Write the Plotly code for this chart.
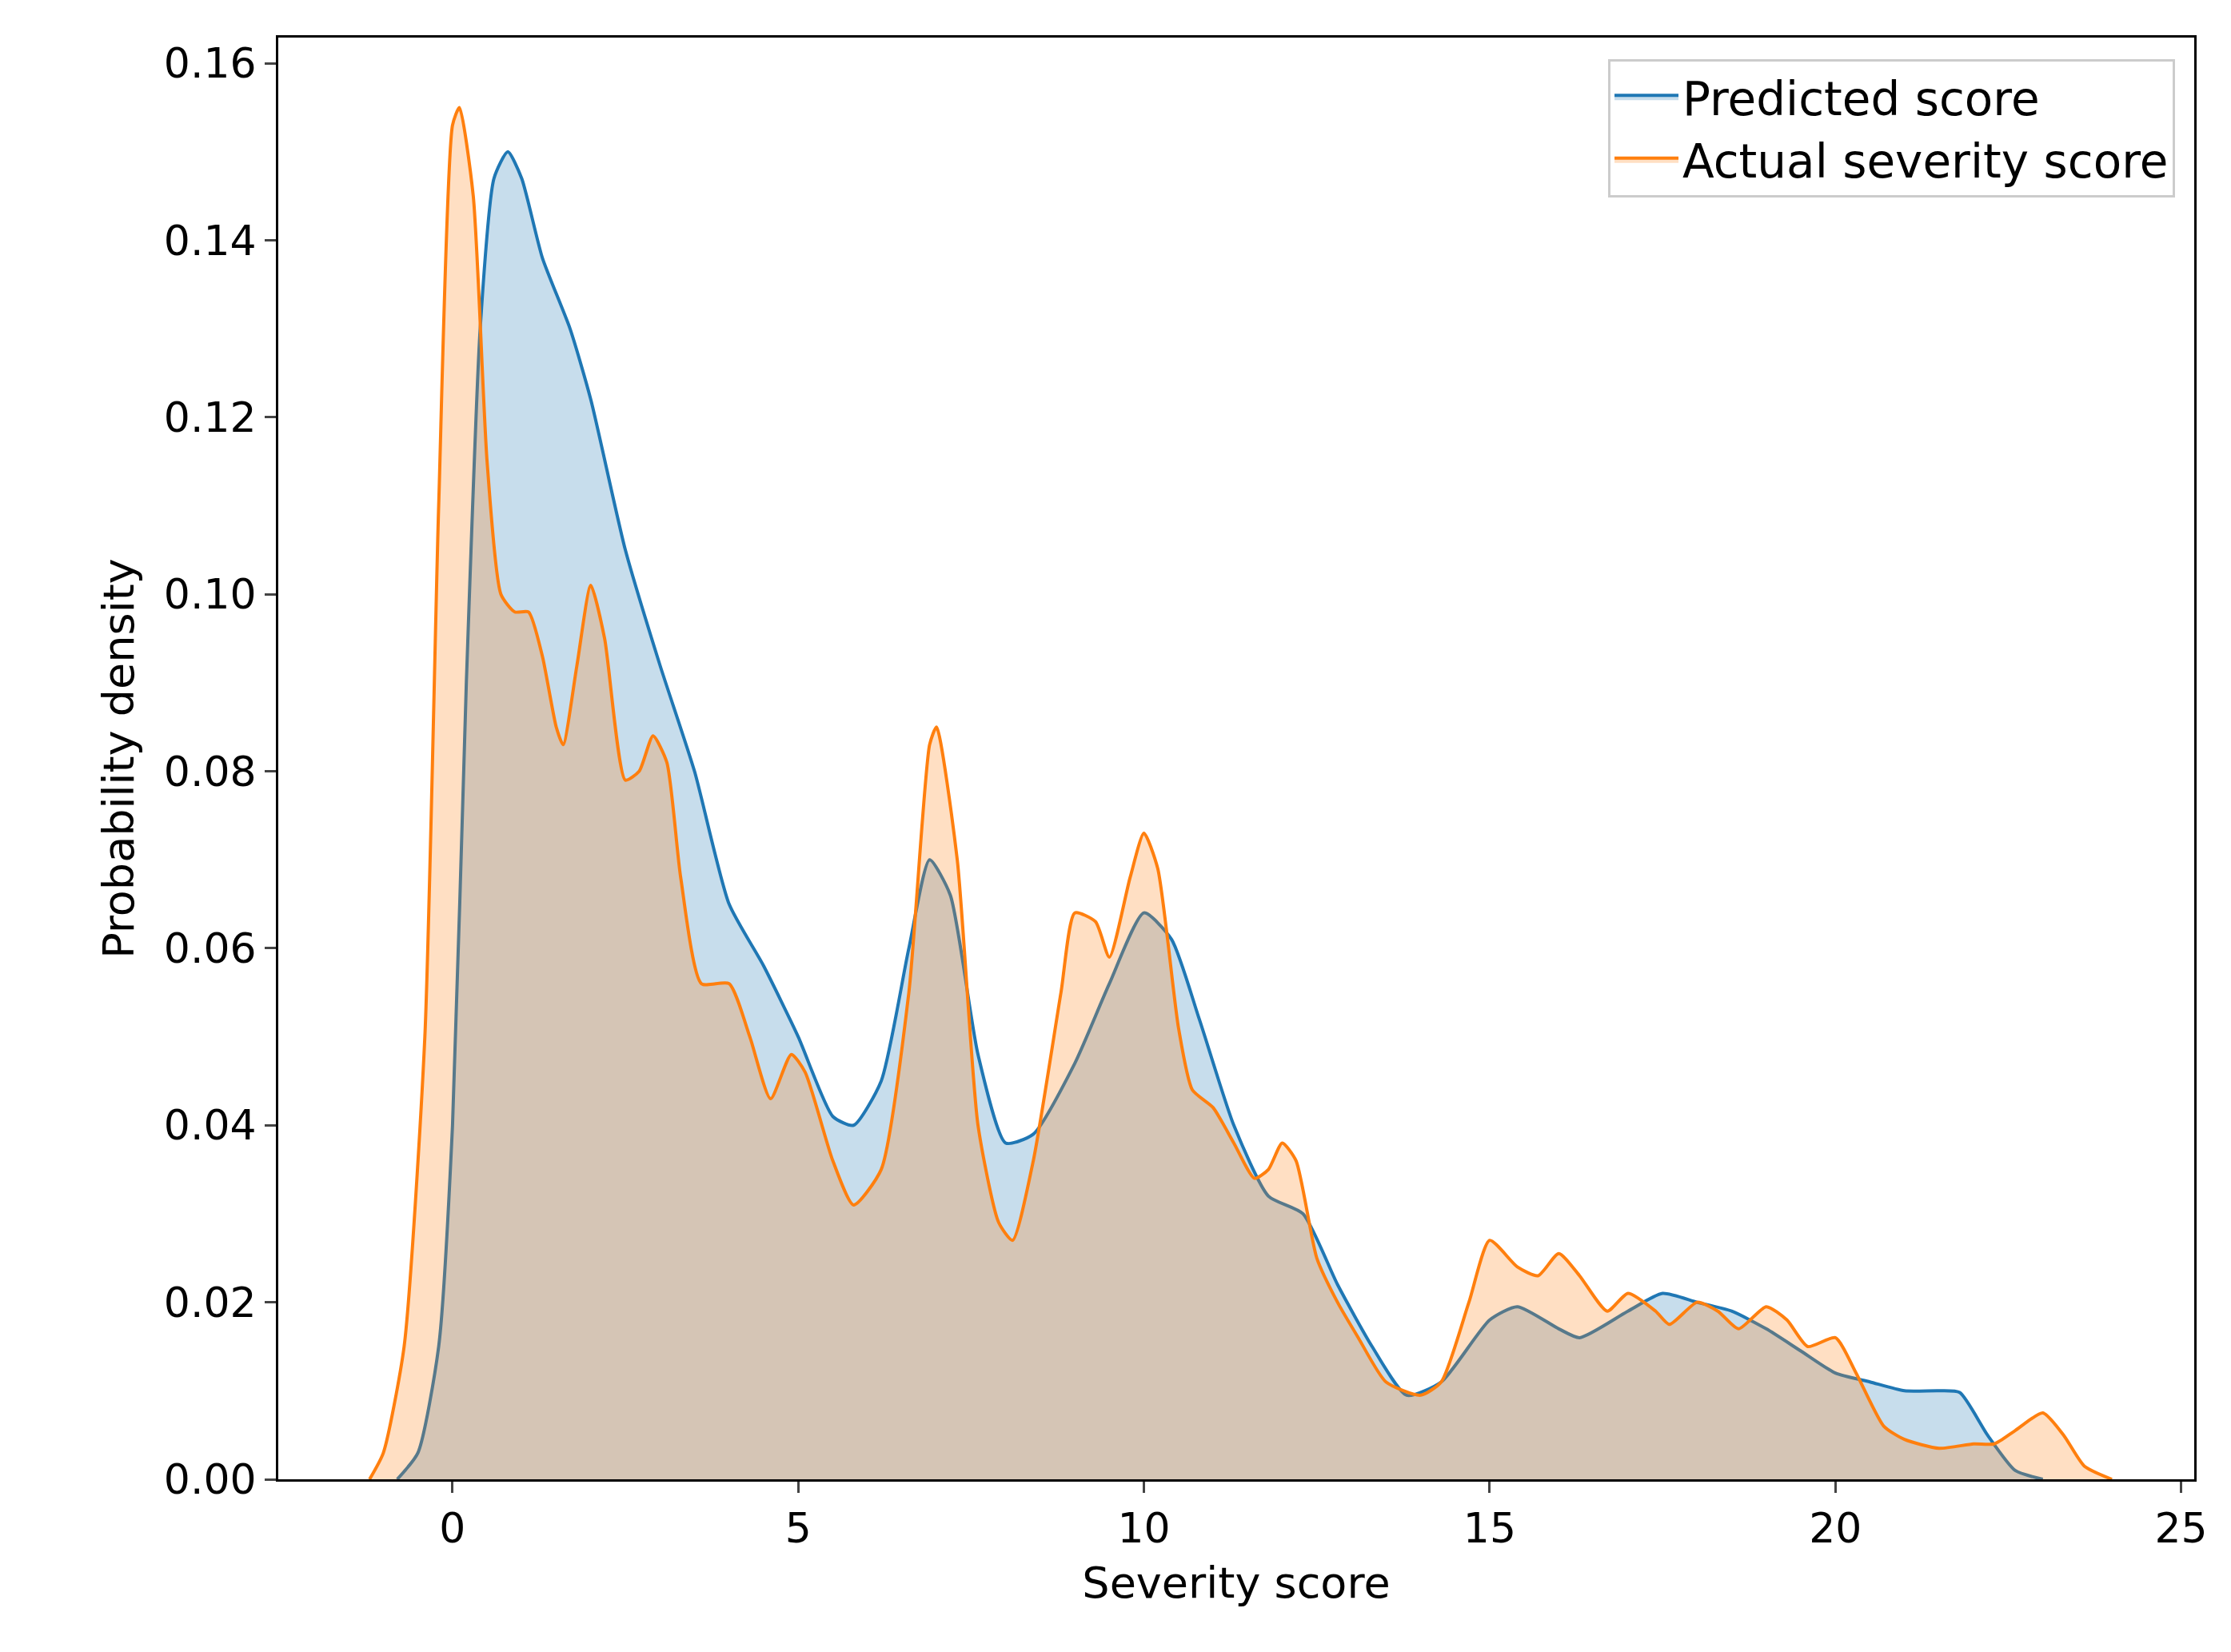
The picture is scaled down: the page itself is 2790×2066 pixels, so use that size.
import plotly.graph_objects as go

pred_x = [-0.8,-0.5,-0.2,0,0.2,0.4,0.6,0.8,1.0,1.3,1.7,2.0,2.5,3.0,3.5,4.0,4.5,5.0,5.5,5.8,6.2,6.6,6.9,7.2,7.6,8.0,8.4,9.0,9.5,10.0,10.4,10.8,11.3,11.8,12.3,12.8,13.3,13.8,14.3,15.0,15.4,16.0,16.3,17.0,17.5,18.0,18.5,19.0,19.5,20,20.5,21,21.5,21.8,22.2,22.6,23]
pred_y = [0,0.003,0.015,0.04,0.09,0.13,0.147,0.150,0.147,0.138,0.130,0.122,0.105,0.092,0.08,0.065,0.058,0.05,0.041,0.040,0.045,0.06,0.070,0.066,0.048,0.038,0.039,0.047,0.056,0.064,0.061,0.052,0.04,0.032,0.03,0.022,0.015,0.0095,0.011,0.018,0.0195,0.017,0.016,0.019,0.021,0.020,0.019,0.017,0.0145,0.012,0.011,0.010,0.010,0.0098,0.005,0.001,0]
act_x = [-1.2,-1.0,-0.7,-0.4,-0.2,0,0.1,0.3,0.5,0.7,0.9,1.1,1.3,1.5,1.6,1.8,2.0,2.2,2.5,2.7,2.9,3.1,3.3,3.6,4.0,4.3,4.6,4.9,5.1,5.5,5.8,6.2,6.6,6.9,7.0,7.3,7.6,7.9,8.1,8.4,8.8,9.0,9.3,9.5,9.8,10.0,10.2,10.5,10.7,11.0,11.3,11.6,11.8,12.0,12.2,12.5,12.8,13.1,13.5,14.0,14.3,14.7,15.0,15.4,15.7,16.0,16.3,16.7,17.0,17.4,17.6,18.0,18.3,18.6,19.0,19.3,19.6,20.0,20.3,20.7,21.0,21.5,22.0,22.3,22.6,23.0,23.3,23.6,24.0]
act_y = [0,0.003,0.015,0.05,0.11,0.153,0.155,0.145,0.115,0.100,0.098,0.098,0.093,0.085,0.083,0.092,0.101,0.095,0.079,0.080,0.084,0.081,0.068,0.056,0.056,0.050,0.043,0.048,0.046,0.036,0.031,0.035,0.055,0.083,0.085,0.07,0.04,0.029,0.027,0.036,0.055,0.064,0.063,0.059,0.068,0.073,0.069,0.051,0.044,0.042,0.038,0.034,0.035,0.038,0.036,0.025,0.020,0.016,0.011,0.0095,0.011,0.02,0.027,0.024,0.023,0.0255,0.023,0.019,0.021,0.019,0.0175,0.020,0.019,0.017,0.0195,0.018,0.015,0.016,0.012,0.006,0.0045,0.0035,0.004,0.004,0.0055,0.0075,0.005,0.0015,0]

fig = go.Figure()
fig.add_trace(go.Scatter(x=pred_x, y=pred_y, mode="lines", name="Predicted score",
    line=dict(color="#1f77b4", width=4, shape="spline", smoothing=0.6),
    fill="tozeroy", fillcolor="rgba(31,119,180,0.25)"))
fig.add_trace(go.Scatter(x=act_x, y=act_y, mode="lines", name="Actual severity score",
    line=dict(color="#ff7f0e", width=4, shape="spline", smoothing=0.6),
    fill="tozeroy", fillcolor="rgba(255,127,14,0.25)"))

ax = dict(showgrid=False, zeroline=False, showline=True, mirror=True, linecolor="black", linewidth=3,
          ticks="outside", ticklen=14, tickwidth=3, tickfont=dict(size=52, color="black"))
fig.update_layout(
    width=2790, height=2066, plot_bgcolor="white", paper_bgcolor="white",
    font=dict(family="DejaVu Sans", color="black"),
    margin=dict(l=340, r=54, t=39, b=224),
    xaxis=dict(range=[-2.52, 25.19], tickvals=[0,5,10,15,20,25],
               title=dict(text="Severity score", font=dict(size=54), standoff=20), **ax),
    yaxis=dict(range=[0, 0.1629], tickvals=[0,0.02,0.04,0.06,0.08,0.10,0.12,0.14,0.16], tickformat=".2f",
               title=dict(text="Probability density", font=dict(size=54), standoff=20), **ax),
    legend=dict(x=0.99, y=0.985, xanchor="right", yanchor="top", font=dict(size=58),
                bordercolor="#cccccc", borderwidth=3, bgcolor="rgba(255,255,255,0.8)",
                itemwidth=80, tracegroupgap=10),
)
fig.write_html("out.html")
